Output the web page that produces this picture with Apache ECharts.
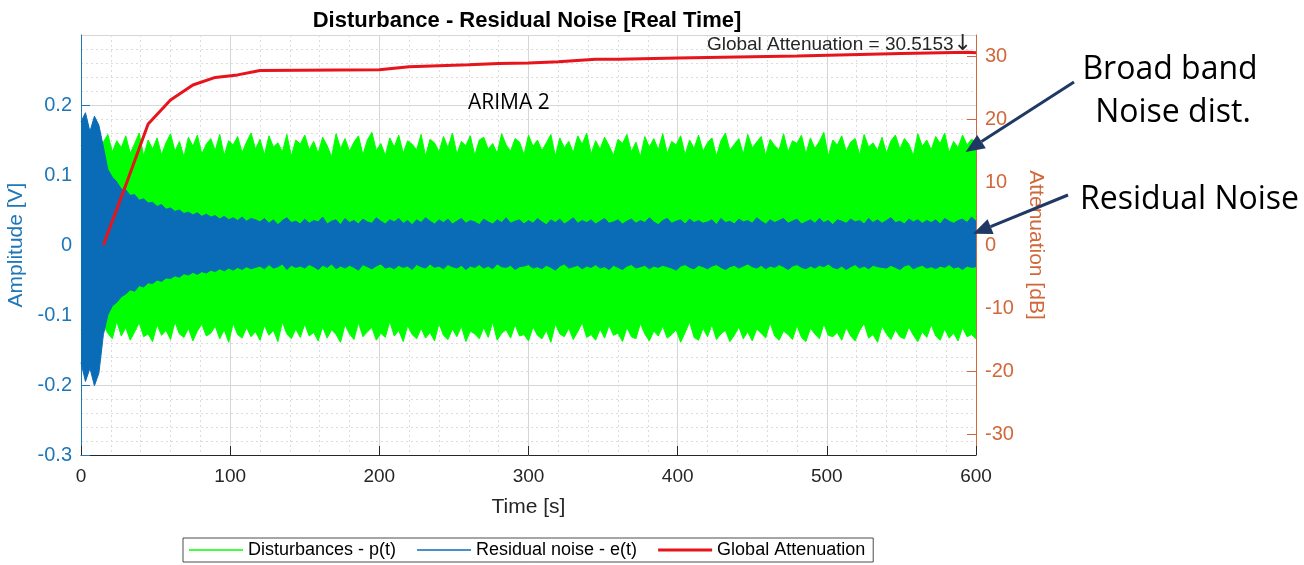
<!DOCTYPE html>
<html>
<head>
<meta charset="utf-8">
<script src="https://cdn.jsdelivr.net/npm/echarts@6/dist/echarts.min.js"></script>
<style>
  html, body { margin: 0; padding: 0; background: #ffffff; }
  #chart { width: 1304px; height: 565px; }
</style>
</head>
<body>
<div id="chart"></div>
<script>
// Envelope samples of the two signals, one value every SAMPLE_STEP seconds (0 … 600 s)
const SAMPLE_STEP = 3;

// Disturbance p(t): upper / lower envelope [V]
const disturbanceUpper = [
  0.142,0.151,0.136,0.155,0.128,0.147,0.158,0.133,0.149,0.139,
  0.156,0.131,0.145,0.160,0.127,0.150,0.137,0.153,0.129,0.146,
  0.159,0.134,0.148,0.126,0.154,0.141,0.157,0.130,0.144,0.152,
  0.135,0.158,0.128,0.149,0.143,0.155,0.132,0.147,0.160,0.137,
  0.151,0.129,0.156,0.140,0.146,0.133,0.158,0.127,0.150,0.144,
  0.157,0.136,0.148,0.131,0.154,0.142,0.126,0.159,0.138,0.152,
  0.134,0.147,0.156,0.129,0.150,0.161,0.135,0.145,0.128,0.153,
  0.140,0.157,0.131,0.149,0.144,0.136,0.158,0.127,0.151,0.146,
  0.133,0.155,0.139,0.160,0.130,0.148,0.142,0.156,0.128,0.150,
  0.154,0.137,0.145,0.131,0.159,0.143,0.134,0.152,0.147,0.129,
  0.157,0.141,0.150,0.135,0.146,0.158,0.127,0.153,0.139,0.148,
  0.132,0.156,0.144,0.160,0.130,0.149,0.137,0.154,0.142,0.128,
  0.151,0.145,0.158,0.133,0.147,0.126,0.155,0.140,0.152,0.136,
  0.159,0.131,0.148,0.143,0.156,0.129,0.150,0.138,0.157,0.134,
  0.146,0.153,0.127,0.149,0.160,0.135,0.144,0.152,0.130,0.158,
  0.139,0.147,0.155,0.128,0.151,0.142,0.136,0.159,0.133,0.149,
  0.145,0.157,0.130,0.153,0.138,0.148,0.161,0.127,0.150,0.143,
  0.156,0.134,0.147,0.152,0.129,0.158,0.140,0.146,0.135,0.154,
  0.131,0.149,0.157,0.137,0.152,0.144,0.128,0.159,0.141,0.150,
  0.136,0.155,0.145,0.160,0.132,0.148,0.139,0.157,0.143,0.151,
  0.147
];
const disturbanceLower = [
  -0.121,-0.133,-0.112,-0.128,-0.137,-0.115,-0.126,-0.134,-0.109,-0.130,
  -0.118,-0.136,-0.124,-0.111,-0.131,-0.127,-0.138,-0.114,-0.129,-0.122,
  -0.135,-0.110,-0.127,-0.132,-0.119,-0.137,-0.123,-0.113,-0.130,-0.126,
  -0.116,-0.134,-0.121,-0.139,-0.112,-0.128,-0.133,-0.118,-0.131,-0.124,
  -0.136,-0.115,-0.129,-0.122,-0.138,-0.110,-0.127,-0.134,-0.120,-0.132,
  -0.113,-0.130,-0.125,-0.137,-0.117,-0.133,-0.121,-0.128,-0.139,-0.114,
  -0.127,-0.135,-0.111,-0.131,-0.124,-0.118,-0.136,-0.126,-0.132,-0.109,
  -0.130,-0.122,-0.138,-0.115,-0.128,-0.134,-0.119,-0.133,-0.125,-0.137,
  -0.112,-0.129,-0.135,-0.120,-0.131,-0.116,-0.138,-0.123,-0.127,-0.134,
  -0.118,-0.132,-0.110,-0.136,-0.126,-0.121,-0.133,-0.114,-0.130,-0.128,
  -0.137,-0.117,-0.129,-0.134,-0.122,-0.139,-0.113,-0.127,-0.131,-0.119,
  -0.135,-0.124,-0.111,-0.132,-0.128,-0.136,-0.120,-0.133,-0.115,-0.129,
  -0.126,-0.138,-0.118,-0.131,-0.134,-0.112,-0.127,-0.137,-0.123,-0.130,
  -0.116,-0.133,-0.128,-0.121,-0.139,-0.125,-0.110,-0.132,-0.136,-0.119,
  -0.131,-0.114,-0.135,-0.127,-0.122,-0.138,-0.129,-0.117,-0.134,-0.124,
  -0.137,-0.120,-0.126,-0.133,-0.111,-0.130,-0.136,-0.123,-0.128,-0.135,
  -0.115,-0.132,-0.138,-0.119,-0.127,-0.134,-0.113,-0.129,-0.131,-0.125,
  -0.136,-0.118,-0.130,-0.137,-0.122,-0.112,-0.133,-0.128,-0.139,-0.116,
  -0.127,-0.135,-0.121,-0.131,-0.134,-0.117,-0.129,-0.138,-0.124,-0.132,
  -0.114,-0.130,-0.136,-0.120,-0.133,-0.126,-0.137,-0.118,-0.131,-0.128,
  -0.134
];

// Residual noise e(t): upper / lower envelope [V]
const residualUpper = [
  0.176,0.189,0.162,0.184,0.171,0.140,0.108,0.097,0.090,0.080,
  0.079,0.071,0.072,0.064,0.066,0.060,0.061,0.055,0.058,0.051,
  0.053,0.048,0.050,0.045,0.047,0.043,0.046,0.041,0.044,0.040,
  0.042,0.037,0.041,0.036,0.039,0.035,0.040,0.034,0.038,0.036,
  0.033,0.038,0.031,0.036,0.029,0.035,0.039,0.032,0.034,0.030,
  0.037,0.031,0.035,0.033,0.040,0.030,0.034,0.036,0.029,0.038,
  0.032,0.035,0.030,0.037,0.033,0.031,0.039,0.034,0.030,0.036,
  0.033,0.038,0.031,0.035,0.029,0.036,0.032,0.039,0.034,0.030,
  0.036,0.032,0.037,0.030,0.034,0.038,0.031,0.035,0.033,0.029,
  0.037,0.033,0.030,0.036,0.032,0.039,0.031,0.034,0.036,0.030,
  0.035,0.031,0.038,0.033,0.029,0.036,0.032,0.037,0.030,0.034,
  0.039,0.031,0.035,0.032,0.036,0.030,0.034,0.038,0.031,0.033,
  0.036,0.030,0.034,0.037,0.031,0.035,0.032,0.039,0.033,0.029,
  0.035,0.038,0.031,0.034,0.036,0.030,0.037,0.032,0.035,0.031,
  0.033,0.036,0.029,0.038,0.032,0.034,0.030,0.037,0.033,0.035,
  0.031,0.039,0.034,0.030,0.036,0.032,0.035,0.038,0.031,0.034,
  0.037,0.030,0.033,0.036,0.031,0.038,0.032,0.035,0.029,0.036,
  0.034,0.031,0.037,0.033,0.035,0.030,0.038,0.032,0.036,0.031,
  0.035,0.039,0.032,0.034,0.030,0.037,0.033,0.036,0.031,0.035,
  0.032,0.036,0.030,0.038,0.034,0.031,0.035,0.037,0.032,0.040,
  0.034
];
const residualLower = [
  -0.168,-0.195,-0.176,-0.201,-0.183,-0.128,-0.100,-0.087,-0.082,-0.074,
  -0.070,-0.064,-0.066,-0.058,-0.060,-0.054,-0.055,-0.050,-0.052,-0.047,
  -0.048,-0.044,-0.046,-0.041,-0.043,-0.039,-0.042,-0.038,-0.040,-0.036,
  -0.038,-0.034,-0.037,-0.033,-0.036,-0.032,-0.035,-0.031,-0.034,-0.032,
  -0.030,-0.034,-0.028,-0.033,-0.031,-0.027,-0.035,-0.029,-0.032,-0.030,
  -0.033,-0.028,-0.031,-0.035,-0.029,-0.032,-0.027,-0.034,-0.030,-0.033,
  -0.029,-0.032,-0.036,-0.028,-0.031,-0.034,-0.030,-0.027,-0.033,-0.031,
  -0.034,-0.029,-0.032,-0.030,-0.035,-0.028,-0.031,-0.033,-0.027,-0.032,
  -0.030,-0.034,-0.028,-0.031,-0.033,-0.029,-0.035,-0.030,-0.032,-0.028,
  -0.033,-0.030,-0.034,-0.027,-0.031,-0.032,-0.029,-0.035,-0.031,-0.030,
  -0.028,-0.033,-0.031,-0.034,-0.029,-0.032,-0.036,-0.030,-0.027,-0.033,
  -0.031,-0.029,-0.034,-0.030,-0.032,-0.028,-0.033,-0.031,-0.035,-0.029,
  -0.032,-0.035,-0.030,-0.028,-0.033,-0.031,-0.029,-0.034,-0.030,-0.032,
  -0.029,-0.031,-0.033,-0.036,-0.030,-0.028,-0.032,-0.034,-0.029,-0.031,
  -0.034,-0.030,-0.028,-0.032,-0.035,-0.031,-0.029,-0.033,-0.030,-0.027,
  -0.031,-0.033,-0.029,-0.034,-0.030,-0.032,-0.028,-0.031,-0.035,-0.030,
  -0.028,-0.032,-0.034,-0.030,-0.033,-0.029,-0.031,-0.027,-0.032,-0.034,
  -0.030,-0.035,-0.031,-0.028,-0.033,-0.030,-0.034,-0.029,-0.031,-0.032,
  -0.033,-0.029,-0.032,-0.035,-0.030,-0.028,-0.034,-0.031,-0.029,-0.033,
  -0.031,-0.034,-0.030,-0.032,-0.028,-0.033,-0.031,-0.035,-0.030,-0.032,
  -0.031
];

// Global attenuation [dB] over time [s]
const attenuationTime  = [15, 30, 45, 60, 75, 90, 105, 120, 200, 220, 260, 280, 300, 320, 345, 360, 400, 480, 550, 595, 600];
const attenuationValue = [0, 9.5, 19.2, 23.0, 25.4, 26.6, 27.0, 27.7, 27.8, 28.3, 28.6, 28.8, 28.9, 29.1, 29.5, 29.5, 29.7, 30.0, 30.4, 30.6, 30.5153];

// Axis tick values
const timeTicks = [0, 100, 200, 300, 400, 500, 600];
const attenuationTicks = [-30, -20, -10, 0, 10, 20, 30];

const seriesNames = ['Disturbances - p(t)', 'Residual noise - e(t)', 'Global Attenuation'];

const toPairs = (vals) => vals.map((v, i) => [i * SAMPLE_STEP, v]);

const FONT = 'Liberation Sans, Arial, sans-serif';
const NOTE_FONT = 'Open Sans, sans-serif';
const GREEN = '#00ff00';
const BLUE = '#0a6bb6';
const RED = '#e8141b';
const LEFT_AXIS = '#1f77b8';
const RIGHT_AXIS = '#d0683a';
const NAVY = '#1f3864';

// Legend keys: plain line segments (thin for the signals, thick for the attenuation)
const THIN_KEY = 'path://M0,0L36,0L36,1L0,1Z';
const THICK_KEY = 'path://M0,0L18,0L18,1L0,1Z';

const chart = echarts.init(document.getElementById('chart'), null, { renderer: 'canvas' });

function bandSeries(name, data, color, z) {
  return {
    name: name,
    type: 'line',
    data: data,
    symbol: 'none',
    sampling: 'none',
    z: z,
    lineStyle: { color: color, width: 1 },
    itemStyle: { color: color },
    areaStyle: { color: color, opacity: 1, origin: 0 },
    emphasis: { disabled: true }
  };
}

const option = {
  animation: false,
  backgroundColor: '#ffffff',
  title: {
    text: 'Disturbance - Residual Noise [Real Time]',
    left: 522,
    top: 5,
    textAlign: 'center',
    textStyle: { fontFamily: FONT, fontWeight: 'bold', fontSize: 22, color: '#000000' }
  },
  grid: { left: 81, right: 328, top: 35, bottom: 110, containLabel: false, outerBoundsMode: 'none' },
  legend: {
    left: 183,
    top: 538,
    data: [
      { name: seriesNames[0], icon: THIN_KEY, itemStyle: { color: GREEN } },
      { name: seriesNames[1], icon: THIN_KEY, itemStyle: { color: BLUE } },
      { name: seriesNames[2], icon: THICK_KEY, itemStyle: { color: RED } }
    ],
    itemWidth: 54,
    itemHeight: 14,
    itemGap: 21,
    padding: [3, 8, 3, 6],
    borderColor: '#4d4d4d',
    borderWidth: 1,
    backgroundColor: '#ffffff',
    textStyle: { fontFamily: FONT, fontSize: 18, color: '#000000' },
    selectedMode: false
  },
  xAxis: {
    type: 'value',
    min: 0,
    max: 600,
    interval: 100,
    name: 'Time [s]',
    nameLocation: 'middle',
    nameGap: 42,
    nameTextStyle: { fontFamily: FONT, fontSize: 21, color: '#262626' },
    axisLine: { show: true, onZero: false, lineStyle: { color: '#262626', width: 1 } },
    axisTick: { show: true, inside: true, length: 9, lineStyle: { color: '#262626' } },
    axisLabel: { fontFamily: FONT, fontSize: 19, color: '#262626', margin: 12,
      customValues: timeTicks },
    splitLine: { show: true, lineStyle: { color: '#d6d6d6', width: 1 } },
    minorTick: { show: false, splitNumber: 5 },
    minorSplitLine: { show: true, lineStyle: { color: '#dcdcdc', type: [2, 3], width: 1 } }
  },
  yAxis: [
    {
      type: 'value',
      min: -0.3,
      max: 0.3,
      interval: 0.1,
      position: 'left',
      name: 'Amplitude [V]',
      nameLocation: 'middle',
      nameGap: 45,
      nameRotate: 90,
      nameTextStyle: { fontFamily: FONT, fontSize: 21, color: LEFT_AXIS },
      axisLine: { show: true, onZero: false, lineStyle: { color: LEFT_AXIS, width: 1 } },
      axisTick: { show: true, inside: true, length: 9, lineStyle: { color: LEFT_AXIS } },
      axisLabel: {
        fontFamily: FONT, fontSize: 20, color: LEFT_AXIS, margin: 9, showMaxLabel: false,
        formatter: (v) => { const r = Math.round(v * 10) / 10; return r === 0 ? '0' : String(r); }
      },
      splitLine: { show: true, lineStyle: { color: '#d6d6d6', width: 1 } },
      minorTick: { show: false, splitNumber: 5 },
      minorSplitLine: { show: true, lineStyle: { color: '#dcdcdc', type: [2, 3], width: 1 } }
    },
    {
      type: 'value',
      min: -100 / 3,
      max: 100 / 3,
      position: 'right',
      name: 'Attenuation [dB]',
      nameLocation: 'middle',
      nameGap: 44,
      nameRotate: -90,
      nameTextStyle: { fontFamily: FONT, fontSize: 21, color: RIGHT_AXIS },
      axisLine: { show: true, onZero: false, lineStyle: { color: RIGHT_AXIS, width: 1 } },
      axisTick: { show: true, inside: true, length: 9, customValues: attenuationTicks, lineStyle: { color: RIGHT_AXIS } },
      axisLabel: { fontFamily: FONT, fontSize: 20, color: RIGHT_AXIS, margin: 9, customValues: attenuationTicks },
      splitLine: { show: false }
    }
  ],
  series: [
    bandSeries(seriesNames[0], toPairs(disturbanceUpper), GREEN, 2),
    bandSeries(seriesNames[0], toPairs(disturbanceLower), GREEN, 2),
    bandSeries(seriesNames[1], toPairs(residualUpper), BLUE, 3),
    bandSeries(seriesNames[1], toPairs(residualLower), BLUE, 3),
    {
      name: seriesNames[2],
      type: 'line',
      yAxisIndex: 1,
      data: attenuationTime.map((t, i) => [t, attenuationValue[i]]),
      symbol: 'none',
      z: 5,
      lineStyle: { color: RED, width: 3 },
      itemStyle: { color: RED },
      emphasis: { disabled: true },
      markPoint: {
        symbol: 'circle',
        symbolSize: 1,
        itemStyle: { color: 'rgba(0,0,0,0)' },
        data: [{
          coord: [attenuationTime[attenuationTime.length - 1], attenuationValue[attenuationValue.length - 1]],
          value: attenuationValue[attenuationValue.length - 1]
        }],
        label: {
          show: true,
          position: 'inside',
          align: 'right',
          verticalAlign: 'bottom',
          offset: [-4, 3],
          formatter: 'Global Attenuation = {c}{arr|\u2193}',
          fontFamily: FONT,
          fontSize: 19,
          color: '#262626',
          rich: {
            arr: { fontFamily: 'DejaVu Sans, sans-serif', fontSize: 22, color: '#262626' }
          }
        }
      }
    }
  ]
};

chart.setOption(option);

// Callouts to the right of the plot
function arrow(from, to) {
  const dx = to[0] - from[0], dy = to[1] - from[1];
  const len = Math.sqrt(dx * dx + dy * dy);
  const ux = dx / len, uy = dy / len;
  const headLen = 19, headHalf = 8;
  const bx = to[0] - ux * headLen, by = to[1] - uy * headLen;
  return [
    { type: 'line', shape: { x1: from[0], y1: from[1], x2: bx, y2: by },
      style: { stroke: NAVY, lineWidth: 3 }, z: 20 },
    { type: 'polygon', shape: { points: [
        [to[0], to[1]],
        [bx - uy * headHalf, by + ux * headHalf],
        [bx + uy * headHalf, by - ux * headHalf]
      ] }, style: { fill: NAVY }, z: 20 }
  ];
}

const tipBroad = chart.convertToPixel({ gridIndex: 0 }, [593, 0.133]);
const tipResidual = chart.convertToPixel({ gridIndex: 0 }, [598, 0.016]);

chart.setOption({
  graphic: [
    { type: 'text', left: 468, top: 93, z: 20,
      style: { text: 'ARIMA 2', font: '21px ' + NOTE_FONT, fill: '#000000' } },
    { type: 'text', x: 1170, y: 70, z: 20,
      style: { text: 'Broad band', font: '32px ' + NOTE_FONT, fill: '#000000', align: 'center', verticalAlign: 'middle' } },
    { type: 'text', x: 1173, y: 113, z: 20,
      style: { text: 'Noise dist.', font: '32px ' + NOTE_FONT, fill: '#000000', align: 'center', verticalAlign: 'middle' } },
    { type: 'text', x: 1080, y: 200, z: 20,
      style: { text: 'Residual Noise', font: '32px ' + NOTE_FONT, fill: '#000000', align: 'left', verticalAlign: 'middle' } }
  ].concat(arrow([1074, 82], tipBroad), arrow([1068, 195], tipResidual))
});
</script>
</body>
</html>
